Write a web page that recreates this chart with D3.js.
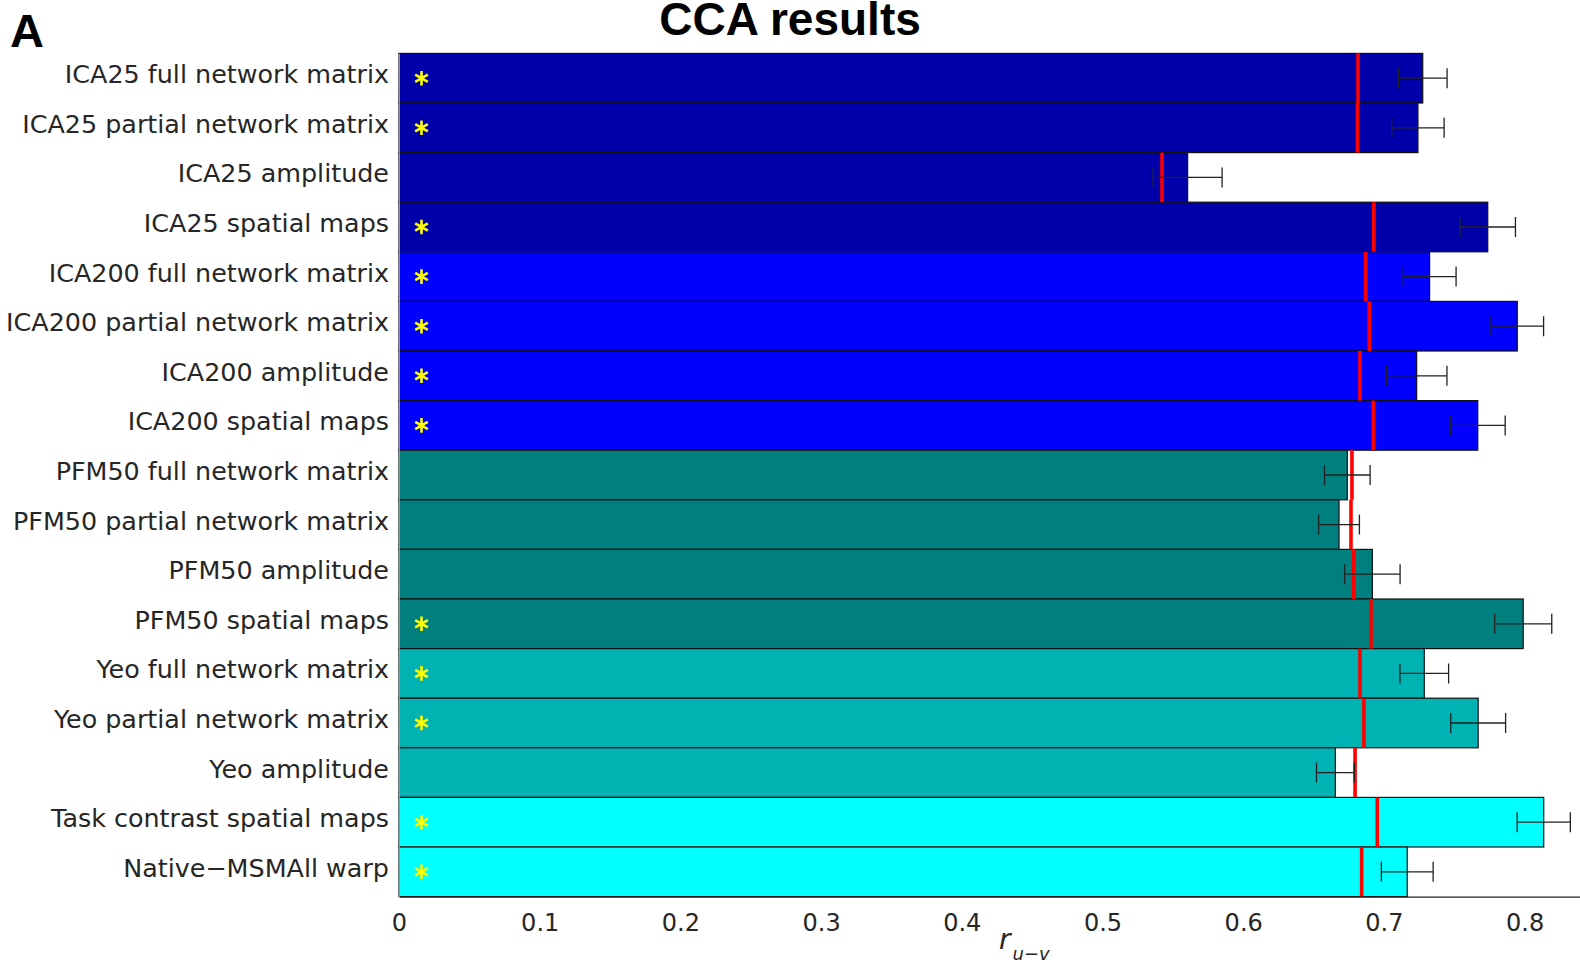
<!DOCTYPE html>
<html>
<head>
<meta charset="utf-8">
<script src="https://cdn.jsdelivr.net/npm/d3@7"></script>
<style>
  html, body { margin: 0; padding: 0; background: #fff; }
  svg { display: block; }
</style>
</head>
<body>
<div id="chart"></div>
<script>
// CCA results — horizontal bars with null threshold (red) and error bars
var labels = [
  "ICA25 full network matrix", "ICA25 partial network matrix", "ICA25 amplitude", "ICA25 spatial maps",
  "ICA200 full network matrix", "ICA200 partial network matrix", "ICA200 amplitude", "ICA200 spatial maps",
  "PFM50 full network matrix", "PFM50 partial network matrix", "PFM50 amplitude", "PFM50 spatial maps",
  "Yeo full network matrix", "Yeo partial network matrix", "Yeo amplitude",
  "Task contrast spatial maps", "Native\u2212MSMAll warp"
];
var groups = ["ICA25", "ICA25", "ICA25", "ICA25", "ICA200", "ICA200", "ICA200", "ICA200",
  "PFM50", "PFM50", "PFM50", "PFM50", "Yeo", "Yeo", "Yeo", "Task", "Task"];
var rValues   = [0.7276, 0.7242, 0.5605, 0.7738, 0.7325, 0.7948, 0.7233, 0.7667,
  0.6740, 0.6681, 0.6918, 0.7990, 0.7287, 0.7670, 0.6655, 0.8136, 0.7166];
var rErrors   = [0.0173, 0.0186, 0.0245, 0.0197, 0.0188, 0.0187, 0.0215, 0.0195,
  0.0162, 0.0145, 0.0197, 0.0203, 0.0173, 0.0195, 0.0134, 0.0189, 0.0184];
var nullThresh = [0.6816, 0.6812, 0.5423, 0.6928, 0.6870, 0.6896, 0.6830, 0.6925,
  0.6773, 0.6766, 0.6785, 0.6908, 0.6830, 0.6858, 0.6795, 0.6953, 0.6842];
var significant = [1, 1, 0, 1, 1, 1, 1, 1, 0, 0, 0, 1, 1, 1, 0, 1, 1];
var groupNames = ["ICA25", "ICA200", "PFM50", "Yeo", "Task"];
var groupColors = ["#0000AA", "#0000FF", "#007F7F", "#00B2B2", "#00FFFF"];
var xTicks = [0, 0.1, 0.2, 0.3, 0.4, 0.5, 0.6, 0.7, 0.8];
var starPos = 0.016;

var W = 1580, H = 968;
var rows = labels.map(function (l, i) {
  return { label: l, group: groups[i], r: rValues[i], err: rErrors[i], nul: nullThresh[i], sig: significant[i] };
});

var svg = d3.select("#chart").append("svg").attr("width", W).attr("height", H);

var x = d3.scaleLinear().domain([0, 0.84]).range([399, 399 + 0.84 * 1407]);
var y = d3.scaleBand().domain(labels).range([53.4, 896.6]).padding(0);
var color = d3.scaleOrdinal().domain(groupNames).range(groupColors);
var bh = y.bandwidth();

// bars
svg.append("g").selectAll("rect").data(rows).join("rect")
  .attr("x", x(0)).attr("y", function (d) { return y(d.label); })
  .attr("width", function (d) { return x(d.r) - x(0); }).attr("height", bh)
  .attr("fill", function (d) { return color(d.group); })
  .attr("stroke", "#111").attr("stroke-width", 1.2);

// significance stars
svg.append("g").selectAll("path").data(rows.filter(function (d) { return d.sig; })).join("path")
  .attr("d", d3.symbol(d3.symbolAsterisk, 150))
  .attr("transform", function (d) { return "translate(" + x(starPos) + "," + (y(d.label) + bh / 2) + ")"; })
  .attr("fill", "none").attr("stroke", "#FFFF00").attr("stroke-width", 2.6);

// null threshold (red)
svg.append("g").selectAll("line").data(rows).join("line")
  .attr("x1", function (d) { return x(d.nul); }).attr("x2", function (d) { return x(d.nul); })
  .attr("y1", function (d) { return y(d.label); }).attr("y2", function (d) { return y(d.label) + bh; })
  .attr("stroke", "#FF0000").attr("stroke-width", 3.6);

// error bars
var eb = svg.append("g").attr("stroke", "#222").attr("stroke-width", 1.3).attr("fill", "none");
eb.selectAll("path").data(rows).join("path")
  .attr("d", function (d) {
    var cy = y(d.label) + bh / 2, a = x(d.r - d.err), b = x(d.r + d.err);
    return "M" + a + "," + cy + "H" + b +
      "M" + a + "," + (cy - 10) + "V" + (cy + 10) +
      "M" + b + "," + (cy - 10) + "V" + (cy + 10);
  });

// axes
var xAxis = svg.append("g").attr("transform", "translate(0," + 896.6 + ")")
  .call(d3.axisBottom(x).tickValues(xTicks).tickSize(0).tickPadding(17)
    .tickFormat(function (d) { return d === 0 ? "0" : d.toFixed(1); }));
xAxis.select(".domain").attr("stroke", "#262626").attr("stroke-width", 1.2);
xAxis.selectAll("text").attr("font-family", "DejaVu Sans").attr("font-size", 24).attr("fill", "#262626");

var yAxis = svg.append("g").attr("transform", "translate(" + x(0) + ",0)")
  .call(d3.axisLeft(y).tickSize(0).tickPadding(10));
yAxis.select(".domain").attr("stroke", "#999").attr("stroke-width", 1);
yAxis.selectAll("text").attr("font-family", "DejaVu Sans").attr("font-size", 25.4)
  .attr("fill", "#262626").attr("dy", "0.2em");

// axis label r_{u-v}
var xl = svg.append("text").attr("x", 999).attr("y", 949)
  .attr("font-family", "DejaVu Sans").attr("font-style", "italic").attr("fill", "#262626");
xl.append("tspan").attr("font-size", 28).text("r");
xl.append("tspan").attr("font-size", 18).attr("dy", 11).attr("dx", 2).text("u\u2212v");

// title and panel letter
svg.append("text").attr("x", 790).attr("y", 35).attr("text-anchor", "middle")
  .attr("font-family", "Liberation Sans").attr("font-weight", "bold").attr("font-size", 46)
  .attr("fill", "#000").text("CCA results");
svg.append("text").attr("x", 10).attr("y", 47)
  .attr("font-family", "Liberation Sans").attr("font-weight", "bold").attr("font-size", 47)
  .attr("fill", "#000").text("A");
</script>
</body>
</html>
